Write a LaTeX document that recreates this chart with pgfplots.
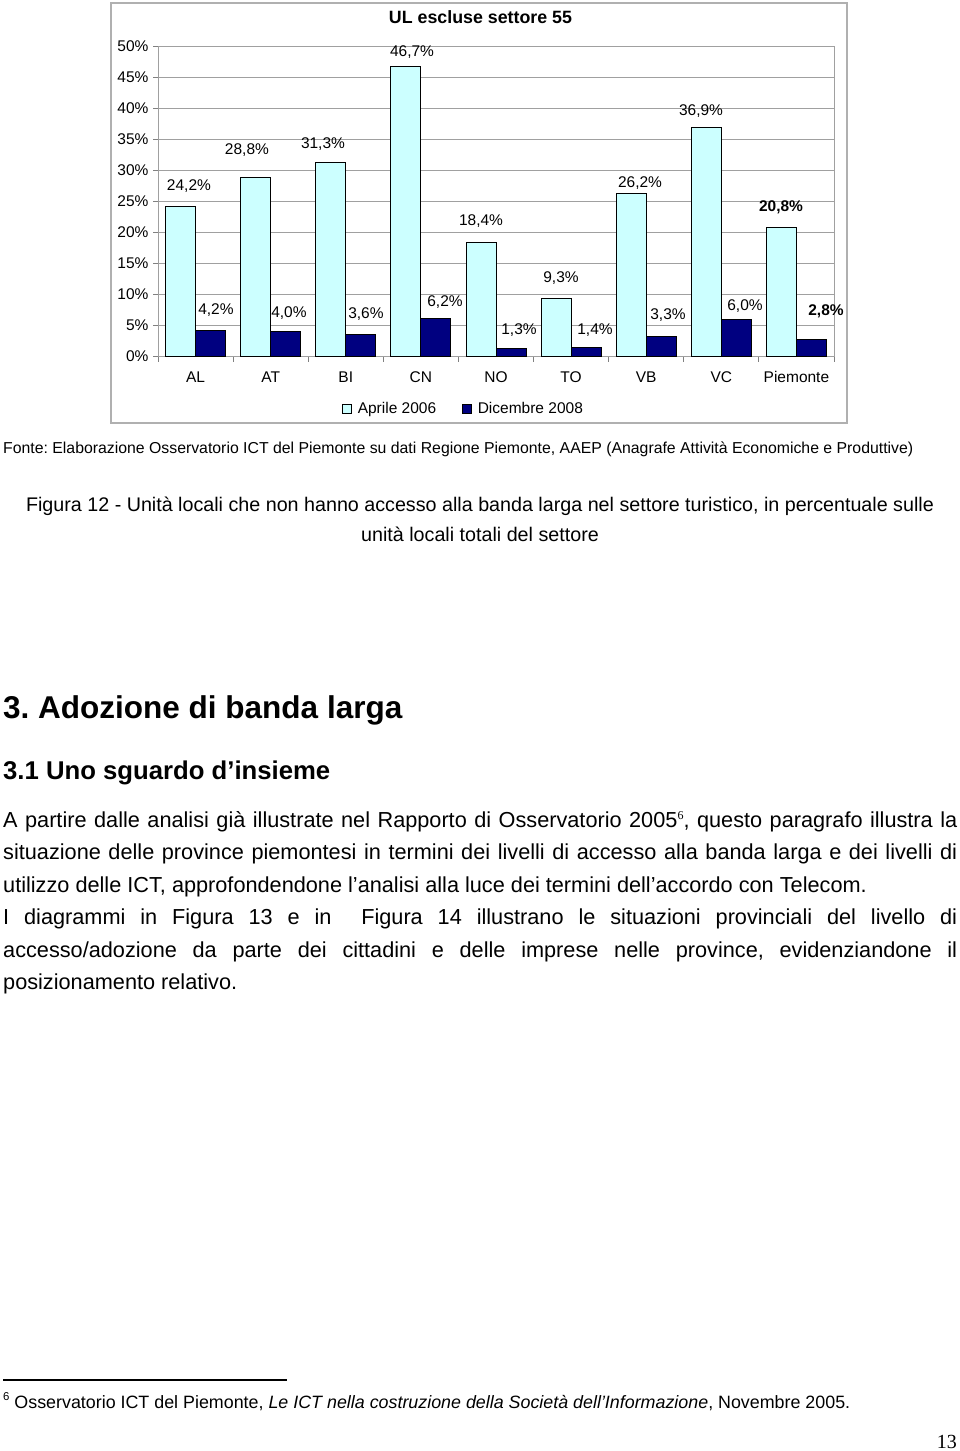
\documentclass[border=0pt]{standalone}
\usepackage{fontspec}
\setmainfont{Liberation Sans}
\newfontfamily\serif{Liberation Serif}
\usepackage{graphicx}
\usepackage{pgfplots}
\usepackage{pgfplotstable}
\pgfplotsset{compat=1.18}
\definecolor{lightbar}{HTML}{CCFFFF}
\definecolor{darkbar}{HTML}{000080}
\definecolor{framegray}{HTML}{B0B0B0}
\definecolor{gridgray}{HTML}{A0A0A0}

\pgfplotstableread{
x a adx ady d ddx ddy bf
0 24.2 8.4 20.2 4.2 5.4 20.4 0
1 28.8 -8.7 27.7 4.0 3.3 18.7 0
2 31.3 -7.8 18.1 3.6 5.2 20.1 0
3 46.7 6.1 14.5 6.2 9.1 16.0 0
4 18.4 0.0 21.2 1.3 8.0 18.4 0
5 9.3 4.9 20.7 1.4 8.9 17.8 0
6 26.2 8.8 10.8 3.3 6.8 21.0 0
7 36.9 -5.3 16.3 6.0 8.7 13.2 0
8 20.8 -0.4 20.3 2.8 14.6 28.1 1
}\datatable

\newcommand{\chartfont}{\fontsize{15.5}{18}\selectfont}
\newcommand{\parafont}{\fontsize{21.7}{25}\selectfont}
\newcommand{\supsix}{{\serif\fontsize{12}{12}\selectfont\raisebox{8pt}{6}}}
\frenchspacing

\begin{document}
\begin{tikzpicture}
\path[use as bounding box, fill=white] (0pt,0pt) rectangle (960pt,-1451pt);
% chart frame
\draw[framegray, line width=1.3pt] (111pt,-3pt) rectangle (847pt,-423pt);
% chart title
\node[anchor=base, inner sep=0pt] at (480.5pt,-23pt) {\resizebox{183pt}{!}{\bfseries UL escluse settore 55}};

\begin{axis}[
  at={(158pt,-356.5pt)}, anchor=south west,
  scale only axis, width=676pt, height=310.5pt,
  xmin=-0.5, xmax=8.5, ymin=0, ymax=50,
  ybar=0pt, bar width=30pt,
  clip=false,
  /pgf/number format/assume math mode=true,
  xtick={0,...,8},
  xticklabels={AL,AT,BI,CN,NO,TO,VB,VC,Piemonte},
  major x tick style={draw=none},
  minor xtick={-0.5,0.5,...,8.5},
  minor tick length=5pt,
  major tick length=5pt,
  tick align=outside,
  xtick pos=bottom, ytick pos=left,
  ytick={0,5,...,50},
  yticklabel={\pgfmathprintnumber{\tick}\%},
  ymajorgrids,
  grid style={gridgray, line width=0.8pt},
  axis line style={gridgray, line width=0.9pt},
  tick style={gray, line width=0.8pt},
  ticklabel style={font=\chartfont},
  xticklabel style={yshift=-6pt, text height=11pt, text depth=0pt},
  yticklabel style={xshift=-1pt},
  legend style={at={(0.452,-0.169)}, anchor=center, draw=none, fill=none,
    legend columns=2, font=\chartfont,
    /tikz/every odd column/.append style={column sep=4pt},
    /tikz/every even column/.append style={column sep=24pt}},
  legend image code/.code={\draw[#1,draw=black,line width=0.6pt] (0pt,-4.5pt) rectangle (9pt,4.5pt);},
  nodes near coords style={font=\chartfont, anchor=center, inner sep=0pt},
]
\addplot[fill=lightbar, draw=black, line width=0.9pt,
  visualization depends on={\thisrow{adx} \as \ndx},
  visualization depends on={\thisrow{ady} \as \ndy},
  visualization depends on={\thisrow{bf} \as \nbf},
  nodes near coords={\ifdim\nbf pt>0.5pt\bfseries\fi\pgfmathprintnumber[fixed,fixed zerofill,precision=1,use comma]{\pgfplotspointmeta}\%},
  nodes near coords style={xshift=\ndx pt, yshift=\ndy pt, text=black}]
  table[x=x,y=a]{\datatable};
\addlegendentry{Aprile 2006}
\addplot[fill=darkbar, draw=black, line width=0.9pt,
  visualization depends on={\thisrow{ddx} \as \ndx},
  visualization depends on={\thisrow{ddy} \as \ndy},
  visualization depends on={\thisrow{bf} \as \nbf},
  nodes near coords={\ifdim\nbf pt>0.5pt\bfseries\fi\pgfmathprintnumber[fixed,fixed zerofill,precision=1,use comma]{\pgfplotspointmeta}\%},
  nodes near coords style={xshift=\ndx pt, yshift=\ndy pt, text=black}]
  table[x=x,y=d]{\datatable};
\addlegendentry{Dicembre 2008}
\end{axis}

% Fonte
\node[anchor=base west, inner sep=0pt] at (3pt,-453pt) {\resizebox{910pt}{!}{Fonte: Elaborazione Osservatorio ICT del Piemonte su dati Regione Piemonte, AAEP (Anagrafe Attività Economiche e Produttive)}};
% caption
\node[anchor=base, inner sep=0pt] at (480pt,-511.5pt) {\fontsize{19.7}{23}\selectfont Figura 12 - Unità locali che non hanno accesso alla banda larga nel settore turistico, in percentuale sulle};
\node[anchor=base, inner sep=0pt] at (480pt,-541.5pt) {\fontsize{19.7}{23}\selectfont unità locali totali del settore};
% headings
\node[anchor=base west, inner sep=0pt] at (3pt,-718pt) {\resizebox{399pt}{!}{\bfseries 3. Adozione di banda larga}};
\node[anchor=base west, inner sep=0pt] at (3pt,-779pt) {\resizebox{327pt}{!}{\bfseries 3.1 Uno sguardo d’insieme}};
% paragraph
\node[anchor=base west, inner sep=0pt] at (3pt,-827.5pt) {\parafont\makebox[954pt][s]{A partire dalle analisi già illustrate nel Rapporto di Osservatorio 2005\supsix, questo paragrafo illustra la}};
\node[anchor=base west, inner sep=0pt] at (3pt,-859.5pt) {\parafont\makebox[954pt][s]{situazione delle province piemontesi in termini dei livelli di accesso alla banda larga e dei livelli di}};
\node[anchor=base west, inner sep=0pt] at (3pt,-892.5pt) {\parafont utilizzo delle ICT, approfondendone l’analisi alla luce dei termini dell’accordo con Telecom.};
\node[anchor=base west, inner sep=0pt] at (3pt,-924.5pt) {\parafont\makebox[954pt][s]{I diagrammi in Figura 13 e in \ Figura 14 illustrano le situazioni provinciali del livello di}};
\node[anchor=base west, inner sep=0pt] at (3pt,-957.5pt) {\parafont\makebox[954pt][s]{accesso/adozione da parte dei cittadini e delle imprese nelle province, evidenziandone il}};
\node[anchor=base west, inner sep=0pt] at (3pt,-989.5pt) {\parafont posizionamento relativo.};
% footnote
\draw[black, line width=1.3pt] (3pt,-1380pt) -- (287pt,-1380pt);
\node[anchor=base west, inner sep=0pt] at (3pt,-1408pt) {\resizebox{847pt}{!}{\fontsize{16.5}{18}\selectfont{\fontsize{10.5}{11}\selectfont\raisebox{6.5pt}{6}} Osservatorio ICT del Piemonte, \textit{Le ICT nella costruzione della Società dell’Informazione}, Novembre 2005.}};
% page number
\node[anchor=base east, inner sep=0pt] at (957pt,-1448pt) {\serif\fontsize{20}{20}\selectfont 13};
\end{tikzpicture}
\end{document}
